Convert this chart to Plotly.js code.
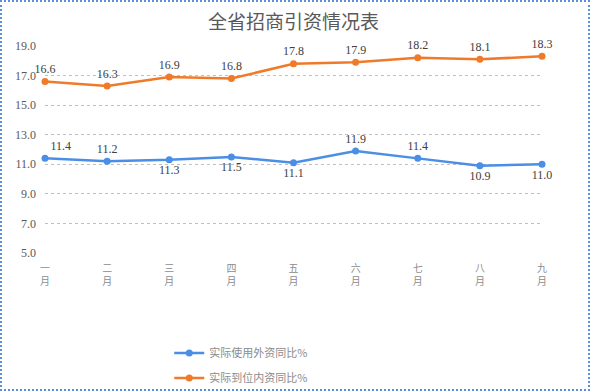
<!DOCTYPE html>
<html><head><meta charset="utf-8">
<script src="https://cdn.plot.ly/plotly-3.0.1.min.js"></script>
<style>
html,body{margin:0;padding:0;background:#fff;}
#frame{width:590px;height:391px;box-sizing:border-box;border:2px dotted #5b8fd9;overflow:hidden;position:relative;}
#chart{width:586px;height:430px;}
</style>
</head><body>
<div id="frame"><div id="chart"></div></div>
<script>
const months = ['一','二','三','四','五','六','七','八','九'];
const monthLabels = months.map(m => m + '<br>月');
const foreignName = '实际使用外资同比%';
const domesticName = '实际到位内资同比%';
const foreignValues = [11.4, 11.2, 11.3, 11.5, 11.1, 11.9, 11.4, 10.9, 11.0];
const domesticValues = [16.6, 16.3, 16.9, 16.8, 17.8, 17.9, 18.2, 18.1, 18.3];
const foreignLabelPos = ['top right','top center','bottom center','bottom center','bottom center','top center','top center','bottom center','bottom center'];

const xs = months.map((_, i) => i);
const labelFont = {family: 'Liberation Serif, serif', size: 12, color: '#404040'};

const traces = [
  {
    x: xs, y: foreignValues, name: foreignName, type: 'scatter', mode: 'lines+markers+text',
    line: {color: '#4a8ee6', width: 2.5}, marker: {color: '#4a8ee6', size: 7},
    text: foreignValues.map(v => v.toFixed(1)), textposition: foreignLabelPos,
    textfont: labelFont, cliponaxis: false, legendgroup: 'a'
  },
  {
    x: xs, y: domesticValues, name: domesticName, type: 'scatter', mode: 'lines+markers+text',
    line: {color: '#ef7b2a', width: 2.5}, marker: {color: '#ef7b2a', size: 7},
    text: domesticValues.map(v => v.toFixed(1)), textposition: 'top center',
    textfont: labelFont, cliponaxis: false, legendgroup: 'b'
  }
];

const layout = {
  width: 586, height: 430,
  margin: {l: 43, r: 46, t: 44, b: 179},
  paper_bgcolor: '#ffffff', plot_bgcolor: '#ffffff',
  title: {text: '全省招商引资情况表', x: 0.5, xref: 'paper', yref: 'container', y: 1 - 20/430, yanchor: 'middle',
          font: {family: 'Noto Sans CJK SC, sans-serif', size: 19, color: '#595959'}},
  xaxis: {
    range: [0, 8], tickmode: 'array', tickvals: xs, ticktext: monthLabels,
    showgrid: false, zeroline: false, showline: false, ticks: '',
    tickfont: {family: 'Noto Sans CJK SC, sans-serif', size: 10, color: '#8c8c8c'},
    ticklabelstandoff: 8
  },
  yaxis: {
    range: [5, 19], tickmode: 'array', tickvals: [5,7,9,11,13,15,17,19],
    tickformat: '.1f', showgrid: true, gridcolor: '#bfbfbf', griddash: 'dot', gridwidth: 1,
    zeroline: false, showline: false, ticks: '',
    tickfont: {family: 'Liberation Serif, serif', size: 12, color: '#595959'},
    ticklabelstandoff: 8
  },
  showlegend: true,
  legend: {
    orientation: 'v', x: 0.25, xanchor: 'left', y: -0.413, yanchor: 'top',
    traceorder: 'grouped', tracegroupgap: 6,
    font: {family: 'Noto Sans CJK SC, sans-serif', size: 11, color: '#8c8c8c'},
    bgcolor: 'rgba(0,0,0,0)'
  }
};

Plotly.newPlot('chart', traces, layout, {displayModeBar: false, staticPlot: true});
</script>
</body></html>
